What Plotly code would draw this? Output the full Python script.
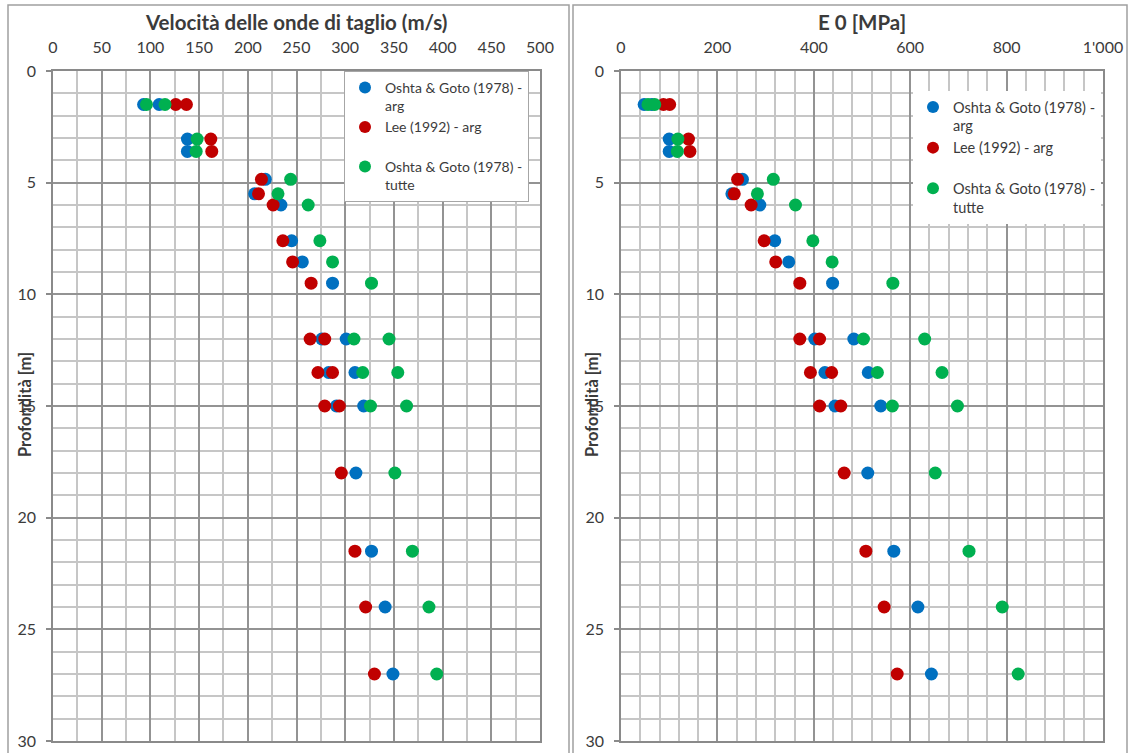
import plotly.graph_objects as go

W, H = 1130, 753

# ---------------- data ----------------
depth = [1.5, 1.5, 3.05, 3.6, 4.85, 5.5, 6.0, 7.6, 8.55, 9.5,
         12, 12, 13.5, 13.5, 15, 15, 18, 21.5, 24, 27]

vs_oshta_arg = [93, 109, 138, 138, 218, 207, 234, 245, 256, 287,
                276, 301, 283, 310, 291, 319, 311, 327, 341, 349]
vs_lee_arg = [126, 137, 162, 163, 214, 211, 226, 236, 246, 265,
              264, 279, 272, 287, 279, 294, 296, 310, 321, 330]
vs_oshta_tutte = [96, 115, 148, 147, 244, 231, 262, 274, 287, 327,
                  309, 345, 318, 354, 326, 363, 351, 369, 386, 394]

e0_oshta_arg = [48, 64, 100, 100, 252, 230, 288, 319, 348, 439,
                402, 483, 423, 513, 444, 539, 512, 566, 616, 644]
e0_lee_arg = [88, 101, 140, 143, 242, 235, 270, 297, 321, 371,
              371, 412, 393, 437, 412, 456, 463, 508, 546, 573]
e0_oshta_tutte = [56, 70, 118, 117, 316, 283, 362, 398, 438, 564,
                  503, 630, 532, 666, 563, 698, 652, 722, 791, 824]

series_names = ["Oshta & Goto (1978) -<br>arg",
                "Lee (1992) - arg<br> ",
                "Oshta & Goto (1978) -<br>tutte"]
series_colors = ["#0070C0", "#C00000", "#00B050"]

vs_ticks = [0, 50, 100, 150, 200, 250, 300, 350, 400, 450, 500]
vs_ticklabels = ["0", "50", "100", "150", "200", "250", "300", "350", "400", "450", "500"]
e0_ticks = [0, 200, 400, 600, 800, 1000]
e0_ticklabels = ["0", "200", "400", "600", "800", "1'000"]
depth_ticks = [0, 5, 10, 15, 20, 25, 30]
depth_ticklabels = ["0", "5", "10", "15", "20", "25", "30"]

title_left = "Velocità delle onde di taglio (m/s)"
title_right = "E 0 [MPa]"
ytitle = "Profondità [m]"

# ---------------- layout helpers ----------------
def px(x):
    return x / W

def py(y):
    return 1 - y / H

FONT = "Lato, 'Open Sans', sans-serif"
TXT = "#3b3b3b"
MAJ = "#939393"
MIN = "#c6c6c6"

fig = go.Figure()

left_vals = [vs_oshta_arg, vs_lee_arg, vs_oshta_tutte]
right_vals = [e0_oshta_arg, e0_lee_arg, e0_oshta_tutte]

for name, col, vals in zip(series_names, series_colors, left_vals):
    fig.add_trace(go.Scatter(x=vals, y=depth, mode="markers", name=name,
                             marker=dict(color=col, size=13),
                             xaxis="x", yaxis="y", legend="legend"))
for name, col, vals in zip(series_names, series_colors, right_vals):
    fig.add_trace(go.Scatter(x=vals, y=depth, mode="markers", name=name,
                             marker=dict(color=col, size=13),
                             xaxis="x2", yaxis="y2", legend="legend2"))

ydom = [py(741), py(71)]

def xaxis(dom, rng, ticks, labels, minor):
    return dict(domain=dom, range=rng, side="top", tickmode="array",
                tickvals=ticks, ticktext=labels, showgrid=True,
                gridcolor=MAJ, gridwidth=1.6, zeroline=False,
                showline=True, mirror=True, linecolor="#8a8a8a", linewidth=1.5,
                ticks="", ticklabelstandoff=10, automargin=False,
                tickfont=dict(family=FONT, size=16, color=TXT),
                minor=dict(dtick=minor, tick0=0, showgrid=True,
                           gridcolor=MIN, gridwidth=1.6, ticks=""))

def yaxis(anchor):
    return dict(domain=ydom, range=[30, 0], anchor=anchor, tickmode="array",
                tickvals=depth_ticks, ticktext=depth_ticklabels,
                showgrid=True, gridcolor=MAJ, gridwidth=1.6, zeroline=False,
                showline=True, mirror=True, linecolor="#8a8a8a", linewidth=1.5,
                ticks="outside", ticklen=5, tickcolor="#8a8a8a", tickwidth=1.5,
                ticklabelstandoff=7, automargin=False,
                tickfont=dict(family=FONT, size=16, color=TXT),
                minor=dict(dtick=1, tick0=0, showgrid=True,
                           gridcolor=MIN, gridwidth=1.6, ticks=""))

def legend_common(size):
    return dict(bgcolor="white", font=dict(family=FONT, size=size, color=TXT),
                valign="top", itemsizing="constant", tracegroupgap=0,
                xanchor="left", yanchor="top", itemwidth=30)

def ann(text, x, y, size, angle=0):
    return dict(text="<b>" + text + "</b>", x=px(x), y=py(y), xref="paper",
                yref="paper", showarrow=False, xanchor="center", yanchor="middle",
                textangle=angle, font=dict(family=FONT, size=size, color=TXT))

fig.update_layout(
    width=W, height=H, autosize=False,
    margin=dict(l=0, r=0, t=0, b=0, pad=0, autoexpand=False),
    paper_bgcolor="white", plot_bgcolor="white",
    xaxis=xaxis([px(53), px(540)], [0, 500], vs_ticks, vs_ticklabels, 25),
    yaxis=yaxis("x"),
    xaxis2=xaxis([px(621), px(1103)], [0, 1000], e0_ticks, e0_ticklabels, 40),
    yaxis2=yaxis("x2"),
    legend=dict(x=px(344), y=py(71), bordercolor="#a6a6a6", borderwidth=1,
                **legend_common(14)),
    legend2=dict(x=px(913), y=py(91), borderwidth=0, **legend_common(14.5)),
    annotations=[
        ann(title_left, 296, 22, 20.5),
        ann(title_right, 862, 22, 20.5),
        ann(ytitle, 25, 405, 16.5, -90),
        ann(ytitle, 592, 405, 16.5, -90),
    ],
    shapes=[
        dict(type="rect", xref="paper", yref="paper", x0=px(8), x1=px(569),
             y0=py(770), y1=py(5), line=dict(color="#a0a0a0", width=1.5),
             layer="below"),
        dict(type="rect", xref="paper", yref="paper", x0=px(573), x1=px(1127),
             y0=py(770), y1=py(5), line=dict(color="#a0a0a0", width=1.5),
             layer="below"),
    ],
    showlegend=True,
)

fig.write_html("out.html")
